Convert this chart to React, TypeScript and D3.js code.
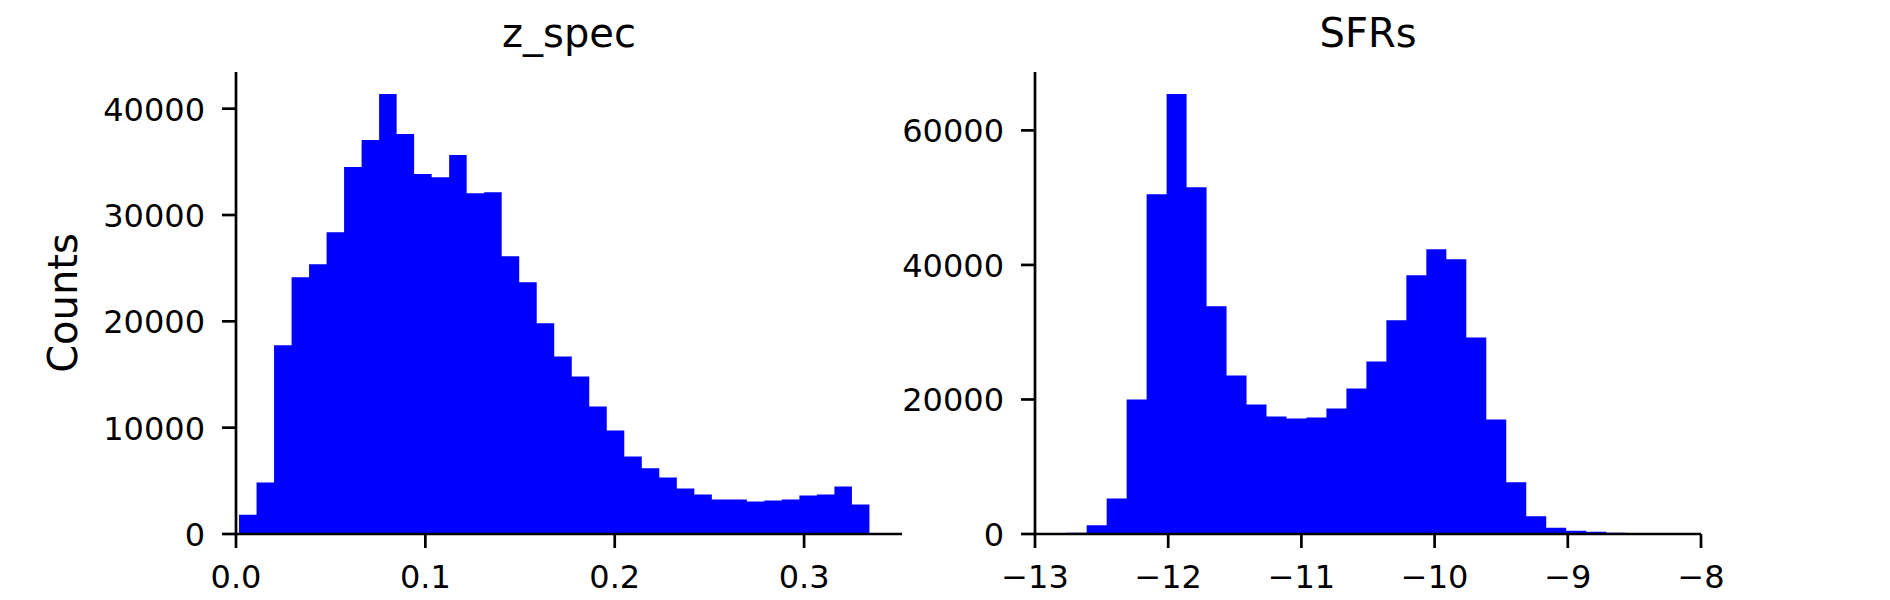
import * as d3 from 'd3';
import React from 'react';

// histogram counts
const zCounts = [
  1820, 4835, 17740, 24145, 25370, 28380, 34505, 37050, 41380, 37615, 33845, 33560,
  35635, 32055, 32150, 26120, 23675, 19810, 16700, 14820, 11995, 9735, 7285, 6185,
  5305, 4270, 3705, 3235, 3235, 3045, 3140, 3235, 3610, 3705, 4460, 2765,
];
const zBinStart = 0.0016;
const zBinEnd = 0.3345;
const zTicks = [0, 0.1, 0.2, 0.3];
const zYTicks = [0, 10000, 20000, 30000, 40000];

const sfrCounts = [
  200, 1290, 5260, 20000, 50520, 65410, 51560, 33850, 23570, 19255, 17470, 17170,
  17320, 18660, 21640, 25660, 31760, 38460, 42330, 40840, 29230, 17020, 7700, 2625,
  940, 490, 340, 200,
];
const sfrBinStart = -12.762;
const sfrBinEnd = -8.562;
const sfrTicks = [-13, -12, -11, -10, -9, -8];
const sfrYTicks = [0, 20000, 40000, 60000];

const W = 1890;
const H = 600;
const top = 72;
const bottom = 534;
const panelW = 666;
const tickLen = 14;
const font = 'DejaVu Sans, sans-serif';

type PanelProps = {
  left: number;
  title: string;
  counts: number[];
  binStart: number;
  binEnd: number;
  xDomain: [number, number];
  xTicks: number[];
  xFormat: (v: number) => string;
  yTicks: number[];
};

function Panel(props: PanelProps) {
  const { left, title, counts, binStart, binEnd, xDomain, xTicks, xFormat, yTicks } = props;
  const x = d3.scaleLinear().domain(xDomain).range([left, left + panelW]);
  const y = d3
    .scaleLinear()
    .domain([0, (d3.max(counts) || 0) * 1.05])
    .range([bottom, top]);
  const bw = (binEnd - binStart) / counts.length;

  // one step outline so neighbouring bars have no seams
  const pts: [number, number][] = [[x(binStart), y(0)]];
  counts.forEach((c, i) => {
    pts.push([x(binStart + i * bw), y(c)]);
    pts.push([x(binStart + (i + 1) * bw), y(c)]);
  });
  pts.push([x(binEnd), y(0)]);
  const area = d3.line()(pts) + 'Z';

  return (
    <g>
      <path d={area} fill="#0000ff" />
      <line x1={left} x2={left} y1={top} y2={bottom + 1.35} stroke="#000" strokeWidth={2.7} />
      <line x1={left - 1.35} x2={left + panelW} y1={bottom} y2={bottom} stroke="#000" strokeWidth={2.7} />
      {xTicks.map(t => (
        <g key={'x' + t}>
          <line x1={x(t)} x2={x(t)} y1={bottom} y2={bottom + tickLen} stroke="#000" strokeWidth={2.7} />
          <text x={x(t)} y={588} textAnchor="middle" fontSize={32} fontFamily={font}>
            {xFormat(t)}
          </text>
        </g>
      ))}
      {yTicks.map(t => (
        <g key={'y' + t}>
          <line x1={left - tickLen} x2={left} y1={y(t)} y2={y(t)} stroke="#000" strokeWidth={2.7} />
          <text x={left - tickLen - 17} y={y(t) + 12} textAnchor="end" fontSize={32} fontFamily={font}>
            {t}
          </text>
        </g>
      ))}
      <text x={left + panelW / 2} y={47} textAnchor="middle" fontSize={40} fontFamily={font}>
        {title}
      </text>
    </g>
  );
}

export default function App() {
  return (
    <svg
      width={W}
      height={H}
      viewBox={`0 0 ${W} ${H}`}
      style={{ position: 'absolute', left: 0, top: 0, background: '#fff' }}
    >
      <rect width={W} height={H} fill="#fff" />
      <Panel
        left={236}
        title="z_spec"
        counts={zCounts}
        binStart={zBinStart}
        binEnd={zBinEnd}
        xDomain={[0, 0.3517]}
        xTicks={zTicks}
        xFormat={d3.format('.1f')}
        yTicks={zYTicks}
      />
      <Panel
        left={1035}
        title="SFRs"
        counts={sfrCounts}
        binStart={sfrBinStart}
        binEnd={sfrBinEnd}
        xDomain={[-13, -8]}
        xTicks={sfrTicks}
        xFormat={d3.format('d')}
        yTicks={sfrYTicks}
      />
      <text
        transform={`translate(77, ${(top + bottom) / 2}) rotate(-90)`}
        textAnchor="middle"
        fontSize={40}
        fontFamily={font}
      >
        Counts
      </text>
    </svg>
  );
}
